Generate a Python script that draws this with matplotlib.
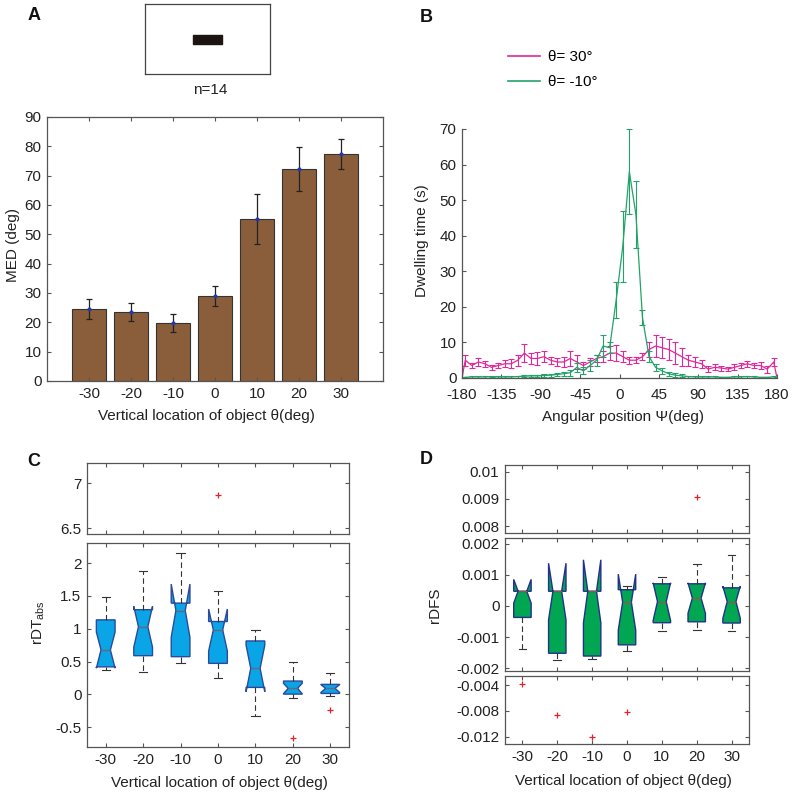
import matplotlib
matplotlib.use('Agg')
import matplotlib.pyplot as plt
from matplotlib.patches import Rectangle
from matplotlib.lines import Line2D
import numpy as np

plt.rcParams['font.family'] = ['Liberation Sans', 'DejaVu Sans']
plt.rcParams['mathtext.fontset'] = 'custom'
plt.rcParams['mathtext.rm'] = 'Liberation Sans'
plt.rcParams['font.size'] = 11
plt.rcParams['axes.unicode_minus'] = False

# ---------------- data ----------------
theta_labels = ['-30', '-20', '-10', '0', '10', '20', '30']
pos = np.arange(1, 8)

# A: MED per vertical location
med_deg = [24.5, 23.5, 19.8, 29.0, 55.3, 72.3, 77.5]
med_err = [3.5, 3.0, 3.2, 3.4, 8.5, 7.6, 5.1]

# B: dwelling time vs angular position (7.5 deg bins)
psi = np.linspace(-176.25, 176.25, 48)
dwell_30 = [5, 3.5, 4.5, 4, 3, 3.5, 4, 4, 5, 7, 5.5, 5.5, 6, 5, 4.5, 4.5,
            5.5, 4.5, 3.5, 4.5, 5.5, 6, 7, 7, 6, 5, 5, 6, 8, 9, 8.5, 8,
            7, 6, 5, 4.5, 4, 2.5, 3, 2.8, 2.5, 3, 3.5, 4, 3.5, 3.5, 2.5, 4.5]
err_30 = [1.5, 0.8, 1.2, 0.8, 0.7, 0.8, 1, 1.3, 1.5, 2.5, 1.5, 1.8, 1.5, 1, 1, 1.3,
          2, 2, 1, 1.2, 1, 1.5, 2, 2.3, 1.5, 1, 0.8, 1, 2, 3, 3, 3,
          3, 2.5, 1.5, 1.5, 1.2, 0.8, 0.8, 0.7, 0.6, 0.8, 0.8, 0.8, 0.8, 1, 1, 1.2]
dwell_m10 = [0.2, 0.3, 0.3, 0.3, 0.4, 0.3, 0.3, 0.3, 0.4, 0.5, 0.6, 0.6, 0.7, 0.8, 1.0, 1.2,
             1.5, 3.0, 2.0, 3.5, 5.0, 9.0, 8.5, 22, 37, 58, 46, 17, 6, 3, 2, 1.2,
             0.8, 0.6, 0.4, 0.3, 0.3, 0.3, 0.3, 0.2, 0.2, 0.3, 0.3, 0.4, 0.3, 0.2, 0.2, 0.3]
err_m10 = [0.2, 0.2, 0.2, 0.2, 0.2, 0.2, 0.2, 0.2, 0.3, 0.3, 0.3, 0.3, 0.4, 0.4, 0.5, 0.6,
           0.8, 1.2, 1.0, 1.5, 1.5, 3.0, 1.5, 5.0, 10.0, 12.0, 9.5, 2.0, 1.5, 1.0, 0.8, 0.6,
           0.5, 0.4, 0.3, 0.3, 0.2, 0.2, 0.2, 0.2, 0.2, 0.2, 0.3, 0.3, 0.3, 0.2, 0.2, 0.2]

# C: rDT_abs box statistics
c_q1 = [0.42, 0.59, 0.575, 0.473, 0.107, 0.005, 0.015]
c_med = [0.677, 1.03, 1.277, 0.982, 0.397, 0.092, 0.092]
c_q3 = [1.135, 1.29, 1.39, 1.11, 0.814, 0.204, 0.153]
c_lo = [0.37, 0.336, 0.473, 0.244, -0.33, -0.06, -0.02]
c_hi = [1.48, 1.873, 2.16, 1.578, 0.982, 0.50, 0.32]
c_cilo = [0.40, 0.72, 0.87, 0.66, 0.04, 0.01, 0.03]
c_cihi = [0.95, 1.34, 1.68, 1.30, 0.75, 0.17, 0.15]
c_fliers = [[], [], [], [6.87], [], [-0.656], [-0.24]]

# D: rDFS box statistics (x 0.001)
d_q1 = [-0.37, -1.52, -1.61, -1.25, -0.54, -0.51, -0.55]
d_med = [0.47, 0.47, 0.47, 0.12, 0.14, 0.25, 0.14]
d_q3 = [0.47, 0.47, 0.47, 0.52, 0.71, 0.71, 0.58]
d_lo = [-1.37, -1.75, -1.69, -1.44, -0.82, -0.77, -0.79]
d_hi = [0.47, 0.47, 0.47, 0.63, 0.93, 1.34, 1.62]
d_cilo = [0.09, -0.45, -0.55, -0.78, -0.47, -0.24, -0.40]
d_cihi = [0.85, 1.37, 1.48, 1.02, 0.74, 0.74, 0.63]
d_fliers = [[-3.9], [-8.65], [-12.1], [-8.14], [], [9.08], []]

# ---------------- layout helpers ----------------
W, H = 799, 797
spine_col = '#555555'
txt_col = '#222222'


def rect(l, t, r, b):
    return [l / W, 1 - b / H, (r - l) / W, (b - t) / H]


def style(ax, box=True):
    for s in ax.spines.values():
        s.set_color(spine_col)
        s.set_linewidth(0.9)
    if not box:
        ax.spines['top'].set_visible(False)
        ax.spines['right'].set_visible(False)
    ax.tick_params(direction='in', length=3, width=0.8, color=spine_col,
                   labelcolor=txt_col, labelsize=11, pad=4,
                   top=box, right=box)


fig = plt.figure(figsize=(W / 100, H / 100), dpi=100)

# ---------------- A ----------------
inset = fig.add_axes(rect(145, 4, 270, 74))
inset.set_xlim(0, 1)
inset.set_ylim(0, 1)
inset.set_xticks([])
inset.set_yticks([])
for s in inset.spines.values():
    s.set_color('#444444')
    s.set_linewidth(0.9)
inset.add_patch(Rectangle((0.385, 0.43), 0.23, 0.13, color='#1c1410'))
fig.text(210 / W, 1 - 90 / H, 'n=14', ha='center', va='center', fontsize=11, color=txt_col)

axA = fig.add_axes(rect(47, 117, 383, 381))
axA.bar(pos, med_deg, width=0.8, color='#8b5e3b', edgecolor='#333333', linewidth=0.8)
axA.errorbar(pos, med_deg, yerr=med_err, fmt='.', color='#2838a8', markersize=4,
             ecolor='#222222', elinewidth=0.9, capsize=2.5, capthick=0.9)
axA.set_xlim(0, 8)
axA.set_ylim(0, 90)
axA.set_yticks(np.arange(0, 91, 10))
axA.set_xticks(pos, theta_labels)
style(axA)
axA.set_ylabel('MED (deg)', fontsize=11, color=txt_col)
axA.yaxis.set_label_coords(-0.08, 0.515)
axA.set_xlabel('Vertical location of object θ(deg)', fontsize=11, color=txt_col)
axA.xaxis.set_label_coords(0.475, -0.106)

# ---------------- B ----------------
axB = fig.add_axes(rect(462, 129, 777, 378))
c_mag = '#e0289a'
c_grn = '#22a36a'
x_full = np.concatenate([[-180], psi, [180]])
axB.plot(x_full, np.concatenate([[0], dwell_30, [0]]), color=c_mag, lw=0.9)
axB.errorbar(psi, dwell_30, yerr=err_30, fmt='none', ecolor=c_mag, elinewidth=0.8,
             capsize=2.2, capthick=0.8)
axB.plot(x_full, np.concatenate([[0], dwell_m10, [0]]), color=c_grn, lw=0.9)
axB.errorbar(psi, dwell_m10, yerr=err_m10, fmt='none', ecolor=c_grn, elinewidth=0.8,
             capsize=2.2, capthick=0.8)
axB.set_xlim(-180, 180)
axB.set_ylim(0, 70)
axB.set_xticks(np.arange(-180, 181, 45))
axB.set_yticks(np.arange(0, 71, 10))
style(axB, box=False)
axB.tick_params(axis='x', pad=7)
axB.set_ylabel('Dwelling time (s)', fontsize=11, color=txt_col)
axB.yaxis.set_label_coords(-0.105, 0.55)
axB.set_xlabel('Angular position Ψ(deg)', fontsize=11, color=txt_col)
axB.xaxis.set_label_coords(0.51, -0.129)
handles = [Line2D([], [], color=c_mag, lw=1.2), Line2D([], [], color=c_grn, lw=1.2)]
fig.legend(handles, ['θ= 30°', 'θ= -10°'], loc='upper left',
           bbox_to_anchor=(508 / W, 1 - 50 / H), frameon=False, fontsize=11,
           handlelength=2.1, handletextpad=0.5, labelspacing=0.75,
           borderpad=0, borderaxespad=0)


# ---------------- box plots C / D ----------------
def make_stats(q1, med, q3, lo, hi, cilo, cihi, fliers, scale=1.0):
    out = []
    for i in range(len(q1)):
        out.append(dict(q1=q1[i] * scale, med=med[i] * scale, q3=q3[i] * scale,
                        whislo=lo[i] * scale, whishi=hi[i] * scale,
                        cilo=cilo[i] * scale, cihi=cihi[i] * scale,
                        fliers=np.array(fliers[i]) * scale, mean=med[i] * scale))
    return out


def draw_box(ax, stats, face, edge, medc):
    ax.bxp(stats, positions=pos, widths=0.5, shownotches=True, patch_artist=True,
           showmeans=False, manage_ticks=False, capwidths=0.22,
           boxprops=dict(facecolor=face, edgecolor=edge, linewidth=1.0),
           medianprops=dict(color=medc, linewidth=1.0),
           whiskerprops=dict(color='#333333', linewidth=0.8, linestyle=(0, (5, 3))),
           capprops=dict(color='#333333', linewidth=0.8),
           flierprops=dict(marker='+', markeredgecolor='#e8202a', markersize=5,
                           markeredgewidth=0.9, linestyle='none'))
    ax.set_xlim(0.5, 7.5)
    ax.set_xticks(pos)


statsC = make_stats(c_q1, c_med, c_q3, c_lo, c_hi, c_cilo, c_cihi, c_fliers)
c_face, c_edge, c_medc = '#0aa5e6', '#2a4a9c', '#5e6a80'

axC1 = fig.add_axes(rect(87, 463, 349, 534))
draw_box(axC1, statsC, c_face, c_edge, c_medc)
axC1.set_ylim(6.437, 7.225)
axC1.set_yticks([6.5, 7], ['6.5', '7'])
style(axC1)
axC1.tick_params(labelbottom=False)

axC2 = fig.add_axes(rect(87, 543, 349, 747))
draw_box(axC2, statsC, c_face, c_edge, c_medc)
axC2.set_ylim(-0.8, 2.305)
axC2.set_yticks([-0.5, 0, 0.5, 1, 1.5, 2], ['-0.5', '0', '0.5', '1', '1.5', '2'])
axC2.set_xticklabels(theta_labels)
style(axC2)
axC2.set_ylabel(r'rDT$_{\rm abs}$', fontsize=11, color=txt_col)
axC2.yaxis.set_label_coords(-0.153, 0.61)
axC2.set_xlabel('Vertical location of object θ(deg)', fontsize=11, color=txt_col)
axC2.xaxis.set_label_coords(0.505, -0.144)

statsD = make_stats(d_q1, d_med, d_q3, d_lo, d_hi, d_cilo, d_cihi, d_fliers, scale=1e-3)
d_face, d_edge, d_medc = '#00a651', '#22318a', '#8a5a46'

axD1 = fig.add_axes(rect(505, 465, 749, 533))
draw_box(axD1, statsD, d_face, d_edge, d_medc)
axD1.set_ylim(0.00776, 0.01024)
axD1.set_yticks([0.008, 0.009, 0.01], ['0.008', '0.009', '0.01'])
style(axD1)
axD1.tick_params(labelbottom=False)

axD2 = fig.add_axes(rect(505, 538, 749, 671))
draw_box(axD2, statsD, d_face, d_edge, d_medc)
axD2.set_ylim(-0.00209, 0.00218)
axD2.set_yticks([-0.002, -0.001, 0, 0.001, 0.002],
                ['-0.002', '-0.001', '0', '0.001', '0.002'])
style(axD2)
axD2.tick_params(labelbottom=False)
axD2.set_ylabel('rDFS', fontsize=11, color=txt_col)
axD2.yaxis.set_label_coords(-0.258, 0.495)

axD3 = fig.add_axes(rect(505, 676, 749, 744))
draw_box(axD3, statsD, d_face, d_edge, d_medc)
axD3.set_ylim(-0.01313, -0.0026)
axD3.set_yticks([-0.012, -0.008, -0.004], ['-0.012', '-0.008', '-0.004'])
axD3.set_xticklabels(theta_labels)
style(axD3)
axD3.set_xlabel('Vertical location of object θ(deg)', fontsize=11, color=txt_col)
axD3.xaxis.set_label_coords(0.486, -0.441)

# panel letters
for letter, x, y in [('A', 28, 15), ('B', 420, 18), ('C', 27, 462), ('D', 420, 460)]:
    fig.text(x / W, 1 - y / H, letter, fontsize=13, fontweight='bold',
             ha='left', va='center', color='#111111')

fig.savefig('out.png', dpi=100)
